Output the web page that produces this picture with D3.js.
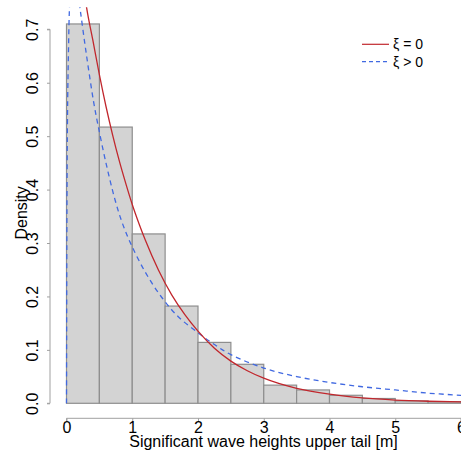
<!DOCTYPE html>
<html>
<head>
<meta charset="utf-8">
<script src="https://d3js.org/d3.v7.min.js"></script>
<style>
  html, body { margin: 0; padding: 0; background: #fff; }
  svg { display: block; font-family: "Liberation Sans", Arial, sans-serif; }
</style>
</head>
<body>
<svg id="chart" width="461" height="455"></svg>
<script>
// Histogram bins (left edges, width 0.5 m) and densities
const binStarts = [0, 0.5, 1, 1.5, 2, 2.5, 3, 3.5, 4, 4.5, 5, 5.5];
const binWidth = 0.5;
const densities = [0.710, 0.517, 0.317, 0.182, 0.114, 0.073, 0.034, 0.025, 0.015, 0.009, 0.0045, 0.003];

// Fitted density, xi = 0
const redX = [0.26, 0.3, 0.4, 0.5, 0.6, 0.7, 0.8, 0.9, 1.0, 1.1, 1.2, 1.4, 1.6, 1.8, 2.0, 2.25, 2.5, 2.75, 3.0, 3.5, 4.0, 4.5, 5.0, 5.5, 6.0, 6.3];
const redY = [0.78, 0.745, 0.68, 0.615, 0.556, 0.503, 0.455, 0.412, 0.372, 0.337, 0.305, 0.249, 0.203, 0.166, 0.135, 0.103, 0.079, 0.061, 0.047, 0.028, 0.017, 0.010, 0.006, 0.0038, 0.0025, 0.002];

// Fitted density, xi > 0
const blueX = [0, 0.002, 0.005, 0.01, 0.018, 0.03, 0.045, 0.07, 0.1, 0.14, 0.205, 0.3, 0.41, 0.48, 0.6, 0.74, 0.85, 0.98, 1.2, 1.45, 1.7, 2.0, 2.25, 2.5, 3.0, 3.5, 4.0, 4.5, 5.0, 5.5, 6.0, 6.3];
const blueY = [0, 0.12, 0.3, 0.45, 0.57, 0.66, 0.74, 0.8, 0.82, 0.8, 0.74, 0.655, 0.566, 0.52, 0.45, 0.38, 0.337, 0.298, 0.245, 0.198, 0.162, 0.132, 0.11, 0.091, 0.066, 0.05, 0.039, 0.031, 0.025, 0.019, 0.015, 0.013];

const xTicks = [0, 1, 2, 3, 4, 5, 6];
const yTicks = [0, 0.1, 0.2, 0.3, 0.4, 0.5, 0.6, 0.7];
const xLabel = "Significant wave heights upper tail [m]";
const yLabel = "Density";
const legendLabels = ["ξ = 0", "ξ > 0"];

const svg = d3.select("#chart");
const x = d3.scaleLinear().domain([0, 6]).range([66.5, 461]);
const y = d3.scaleLinear().domain([0, 0.7]).range([403.3, 29.3]);

const red = "#c1272d";
const blue = "#4169e1";

// clip to plot region
svg.append("clipPath").attr("id", "plotclip")
  .append("rect").attr("x", 50).attr("y", 7.3).attr("width", 430).attr("height", 411);

const plot = svg.append("g").attr("clip-path", "url(#plotclip)");

// bars
plot.selectAll("rect.bar").data(binStarts).enter().append("rect")
  .attr("class", "bar")
  .attr("x", (d) => x(d))
  .attr("y", (d, i) => y(densities[i]))
  .attr("width", (d) => x(d + binWidth) - x(d))
  .attr("height", (d, i) => y(0) - y(densities[i]))
  .attr("fill", "#d3d3d3")
  .attr("stroke", "#8e8e8e")
  .attr("stroke-width", 1.2);

const line = d3.line().x((d) => x(d[0])).y((d) => y(d[1])).curve(d3.curveMonotoneX);

plot.append("path")
  .datum(blueX.map((v, i) => [v, blueY[i]]))
  .attr("d", d3.line().x((d) => x(d[0])).y((d) => y(d[1])).curve(d3.curveCatmullRom))
  .attr("fill", "none").attr("stroke", blue).attr("stroke-width", 1.3)
  .attr("stroke-dasharray", "5,4");

plot.append("path")
  .datum(redX.map((v, i) => [v, redY[i]]))
  .attr("d", line)
  .attr("fill", "none").attr("stroke", red).attr("stroke-width", 1.3);

// axes
const axisColor = "#a0a0a0";
const xAxis = svg.append("g").attr("transform", "translate(0,418.3)")
  .call(d3.axisBottom(x).tickValues(xTicks).tickSize(3).tickPadding(2).tickFormat(d3.format("d")));
xAxis.select(".domain").attr("stroke", axisColor).attr("d", `M${x(0)},3V0H${x(6)}V3`);
xAxis.selectAll(".tick line").attr("stroke", axisColor);
xAxis.selectAll(".tick text").attr("font-size", 16).attr("fill", "#000")
  .attr("font-family", "Liberation Sans, Arial, sans-serif").attr("dy", null).attr("y", 14.5);

const yAxis = svg.append("g").attr("transform", "translate(50,0)")
  .call(d3.axisLeft(y).tickValues(yTicks).tickSize(3).tickFormat(d3.format(".1f")));
yAxis.select(".domain").attr("stroke", axisColor).attr("d", `M-3,${y(0)}H0V${y(0.7)}H-3`);
yAxis.selectAll(".tick line").attr("stroke", axisColor);
yAxis.selectAll(".tick text")
  .attr("font-size", 16).attr("fill", "#000")
  .attr("font-family", "Liberation Sans, Arial, sans-serif")
  .attr("x", null).attr("dy", null)
  .attr("text-anchor", "middle")
  .attr("transform", "translate(-11.7,0) rotate(-90)")
  .attr("y", 0);

// axis titles
svg.append("text").attr("x", 263.5).attr("y", 446.7)
  .attr("text-anchor", "middle").attr("font-size", 16).text(xLabel);
svg.append("text")
  .attr("transform", "translate(26.5,212.9) rotate(-90)")
  .attr("text-anchor", "middle").attr("font-size", 16).text(yLabel);

// legend
const leg = svg.append("g");
const legStyles = [{ c: red, dash: null }, { c: blue, dash: "4,3" }];
legendLabels.forEach((lab, i) => {
  const ly = 44.3 + i * 17.4;
  leg.append("line").attr("x1", 362).attr("x2", 389).attr("y1", ly).attr("y2", ly)
    .attr("stroke", legStyles[i].c).attr("stroke-width", 1.2)
    .attr("stroke-dasharray", legStyles[i].dash);
  leg.append("text").attr("x", 393).attr("y", ly + 5).attr("font-size", 14).text(lab);
});
</script>
</body>
</html>
